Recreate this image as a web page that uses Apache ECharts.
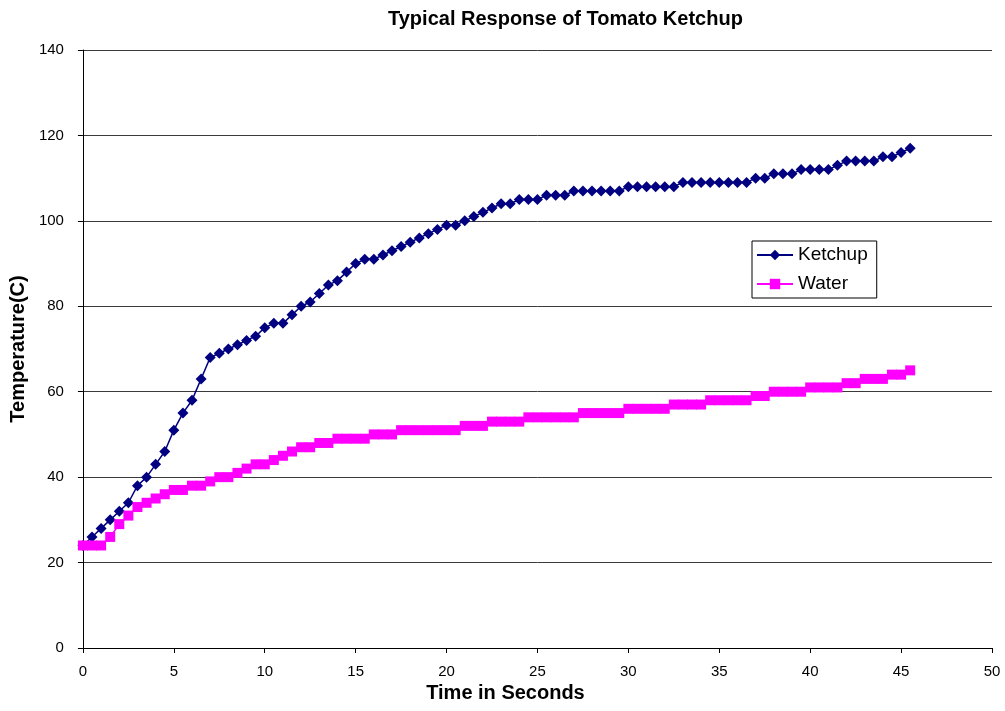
<!DOCTYPE html>
<html>
<head>
<meta charset="utf-8">
<script src="https://cdn.jsdelivr.net/npm/echarts@6/dist/echarts.min.js"></script>
<style>
  html, body { margin: 0; padding: 0; background: #fff; }
  #chart { width: 1005px; height: 711px; }
</style>
</head>
<body>
<div id="chart"></div>
<script>
// Sample times (s)
const time = [0, 0.5, 1, 1.5, 2, 2.5, 3, 3.5, 4, 4.5, 5, 5.5, 6, 6.5, 7, 7.5, 8, 8.5, 9, 9.5,
  10, 10.5, 11, 11.5, 12, 12.5, 13, 13.5, 14, 14.5, 15, 15.5, 16, 16.5, 17, 17.5, 18, 18.5, 19, 19.5,
  20, 20.5, 21, 21.5, 22, 22.5, 23, 23.5, 24, 24.5, 25, 25.5, 26, 26.5, 27, 27.5, 28, 28.5, 29, 29.5,
  30, 30.5, 31, 31.5, 32, 32.5, 33, 33.5, 34, 34.5, 35, 35.5, 36, 36.5, 37, 37.5, 38, 38.5, 39, 39.5,
  40, 40.5, 41, 41.5, 42, 42.5, 43, 43.5, 44, 44.5, 45, 45.5];

// Temperature readings (C)
const ketchup = [24, 26, 28, 30, 32, 34, 38, 40, 43, 46, 51, 55, 58, 63, 68, 69, 70, 71, 72, 73,
  75, 76, 76, 78, 80, 81, 83, 85, 86, 88, 90, 91, 91, 92, 93, 94, 95, 96, 97, 98,
  99, 99, 100, 101, 102, 103, 104, 104, 105, 105, 105, 106, 106, 106, 107, 107, 107, 107, 107, 107,
  108, 108, 108, 108, 108, 108, 109, 109, 109, 109, 109, 109, 109, 109, 110, 110, 111, 111, 111, 112,
  112, 112, 112, 113, 114, 114, 114, 114, 115, 115, 116, 117];

const water = [24, 24, 24, 26, 29, 31, 33, 34, 35, 36, 37, 37, 38, 38, 39, 40, 40, 41, 42, 43,
  43, 44, 45, 46, 47, 47, 48, 48, 49, 49, 49, 49, 50, 50, 50, 51, 51, 51, 51, 51,
  51, 51, 52, 52, 52, 53, 53, 53, 53, 54, 54, 54, 54, 54, 54, 55, 55, 55, 55, 55,
  56, 56, 56, 56, 56, 57, 57, 57, 57, 58, 58, 58, 58, 58, 59, 59, 60, 60, 60, 60,
  61, 61, 61, 61, 62, 62, 63, 63, 63, 64, 64, 65];

const pairs = (ys) => time.map((t, i) => [t, ys[i]]);

const FONT = 'Liberation Sans, Arial, sans-serif';
const chart = echarts.init(document.getElementById('chart'), null, { renderer: 'canvas' });

chart.setOption({
  backgroundColor: '#ffffff',
  animation: false,
  title: {
    text: 'Typical Response of Tomato Ketchup',
    left: 383,
    top: 4,
    textStyle: { fontFamily: FONT, fontSize: 20, fontWeight: 'bold', color: '#000' }
  },
  grid: { left: 82, right: 13, top: 50, bottom: 63, containLabel: false },
  legend: {
    orient: 'vertical',
    left: 752,
    top: 241,
    padding: [4, 9, 4, 4],
    itemGap: 9,
    itemWidth: 36,
    itemHeight: 13,
    borderColor: '#000',
    borderWidth: 1,
    textStyle: { fontFamily: FONT, fontSize: 19, color: '#000', lineHeight: 20 },
    data: ['Ketchup', 'Water']
  },
  xAxis: {
    type: 'value',
    min: 0, max: 50, interval: 5,
    name: 'Time in Seconds',
    nameLocation: 'middle',
    nameGap: 35,
    nameTextStyle: { fontFamily: FONT, fontSize: 20, fontWeight: 'bold', color: '#000', padding: [0, 64, 0, 0] },
    axisLine: { show: true, lineStyle: { color: '#000', width: 1 } },
    axisTick: { show: true, inside: false, length: 5, lineStyle: { color: '#000' } },
    axisLabel: { fontFamily: FONT, fontSize: 15, color: '#000', margin: 16 },
    splitLine: { show: false }
  },
  yAxis: {
    type: 'value',
    min: 0, max: 140, interval: 20,
    name: 'Temperature(C)',
    nameLocation: 'middle',
    nameGap: 52,
    nameTextStyle: { fontFamily: FONT, fontSize: 20, fontWeight: 'bold', color: '#000' },
    axisLine: { show: true, lineStyle: { color: '#000', width: 1 } },
    axisTick: { show: true, inside: false, length: 5, lineStyle: { color: '#000' } },
    axisLabel: { fontFamily: FONT, fontSize: 15, color: '#000', margin: 19 },
    splitLine: { show: true, lineStyle: { color: '#3a3a3a', width: 1 } }
  },
  series: [
    {
      name: 'Ketchup',
      type: 'line',
      data: pairs(ketchup),
      symbol: 'diamond',
      symbolSize: 11,
      color: '#000080',
      lineStyle: { color: '#000080', width: 1.5 },
      itemStyle: { color: '#000080' },
      z: 2
    },
    {
      name: 'Water',
      type: 'line',
      data: pairs(water),
      symbol: 'rect',
      symbolSize: 10,
      color: '#ff00ff',
      lineStyle: { color: '#ff00ff', width: 1.5 },
      itemStyle: { color: '#ff00ff' },
      z: 3
    }
  ]
});
</script>
</body>
</html>
